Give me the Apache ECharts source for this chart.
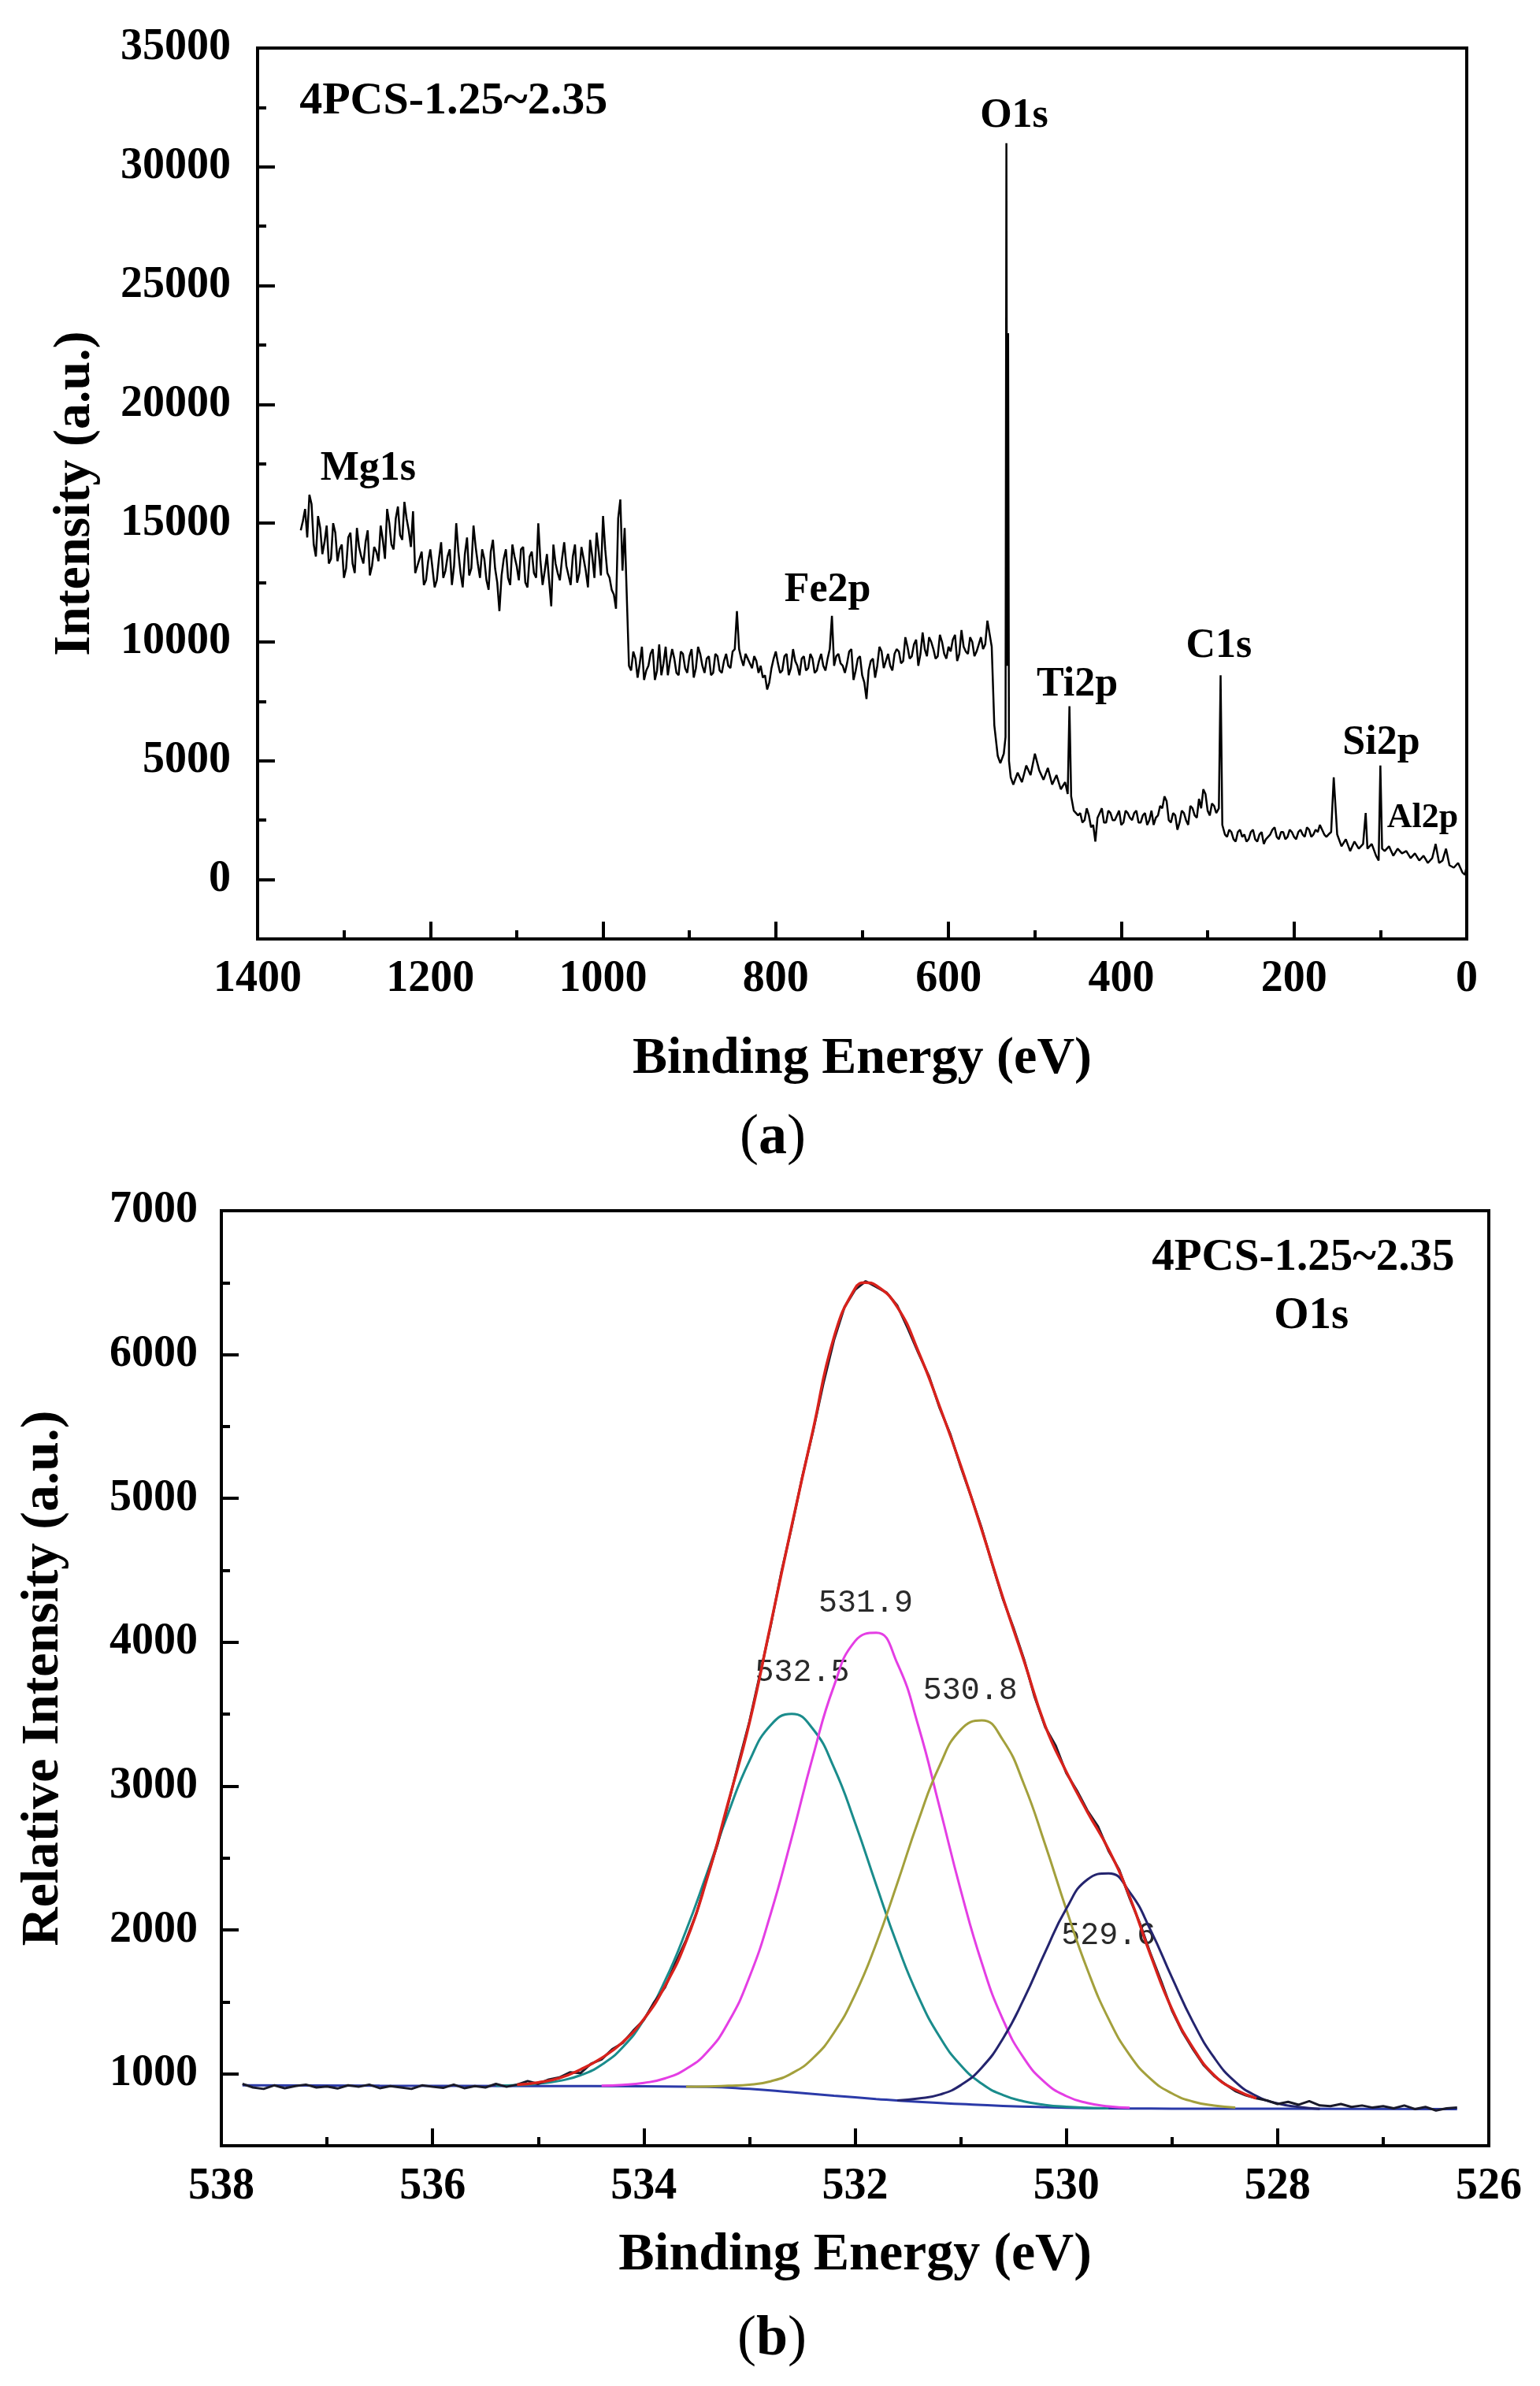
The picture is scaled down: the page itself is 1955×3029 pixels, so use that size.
<!DOCTYPE html>
<html>
<head>
<meta charset="utf-8">
<script src="https://cdn.jsdelivr.net/npm/echarts@6/dist/echarts.min.js"></script>
<style>
html, body { margin: 0; padding: 0; background: #fff; }
#xps { width: 1955px; height: 3029px; }
</style>
</head>
<body>
<div id="xps"></div>
<script>
// (a) survey spectrum
const surveyEnergy = [
  1350,1345,1340,1335,1330,1325,1320,1315,1310,1305,
  1300,1295,1290,1285,1280,1275,1270,1265,1260,1255,
  1250,1245,1240,1235,1230,1225,1220,1215,1210,1205,
  1200,1195,1190,1185,1180,1175,1170,1165,1160,1155,
  1150,1145,1140,1135,1130,1125,1120,1115,1110,1105,
  1100,1095,1090,1085,1080,1075,1070,1065,1060,1055,
  1050,1045,1040,1035,1030,1025,1020,1015,1010,1005,
  1000,995,990,985,980,975,970,965,960,955,
  950,945,940,935,930,925,920,915,910,905,
  900,895,890,885,880,875,870,865,860,855,
  850,845,840,835,830,825,820,815,810,805,
  800,795,790,785,780,775,770,765,760,755,
  750,745,740,735,730,725,720,715,710,705,
  700,695,690,685,680,675,670,665,660,655,
  650,645,640,635,630,625,620,615,610,605,
  600,595,590,585,580,575,570,565,560,555,
  550,547,543,540,536,534,533,532,531,530,
  528,525,520,515,510,505,500,495,490,485,
  480,475,470,465,462,460,458,455,450,445,
  440,435,430,425,420,415,410,405,400,395,
  390,385,380,375,370,365,360,355,350,345,
  340,335,330,325,320,315,310,305,300,295,
  290,287,285,283,280,275,270,265,260,255,
  250,245,240,235,230,225,220,215,210,205,
  200,195,190,185,180,175,170,165,160,157,
  154,150,145,140,135,130,125,120,117,115,
  110,105,102,100,98,95,90,85,80,75,
  70,65,60,55,50,45,40,36,32,28,
  24,20,15,10,5,2,0
];
const surveyCounts = [
  14700,15600,16200,14100,15300,13700,14900,13500,14600,13900,
  12700,14400,13300,14800,13600,14200,12800,14000,13400,14300,
  15600,14100,15200,14500,15900,14700,15500,13200,13800,12600,
  13900,12300,13500,12700,13600,12400,15000,12900,13700,12800,
  14900,13300,13900,12600,13800,13100,11300,13500,12700,14100,
  13200,13900,12500,13600,12900,15000,12400,13700,11500,13300,
  12600,14200,12800,13600,12500,14000,13000,14300,12700,13800,
  15300,12900,12200,11400,16000,14800,9000,9600,8500,9800,
  8800,9500,8400,9900,9100,8600,9700,8700,9600,8900,
  9400,8500,9800,9000,9300,8600,9500,8800,9200,9000,
  9600,11300,9300,9500,9100,9400,8700,8500,8000,8900,
  9600,8700,9400,8600,9700,9000,9300,8800,9500,8700,
  9200,9000,9300,11100,9400,9100,8700,9600,8400,9300,
  8600,7600,9200,8500,9800,8900,9500,8800,9700,9100,
  10200,9300,9900,9000,10400,9400,10000,9300,10300,9500,
  9800,10100,9200,10500,9600,10200,9400,9900,9700,10900,
  9800,6500,5200,4900,5300,6000,31000,9000,23000,5000,
  4300,4000,4500,4100,4800,4400,5300,4600,4200,4700,
  4000,4400,3800,4100,3600,7300,3500,2900,2700,2400,
  3000,2200,1600,2800,2400,2900,2500,2700,2300,2900,
  2600,2800,2400,2700,2300,2900,2600,3100,3500,2500,
  2800,2100,2900,2500,3100,2700,3400,3800,2900,3200,
  2800,3000,8600,2300,1900,2100,1700,2000,1800,1600,
  2000,1700,1900,1500,1800,2100,1800,2000,1700,2100,
  1800,2000,1900,2200,1800,2100,2300,1900,1900,2000,
  4300,1900,1400,1700,1200,1600,1300,1500,2800,1300,
  1500,1000,800,4800,1300,1200,1400,1000,1300,1100,
  1200,900,1100,800,1000,700,900,1500,700,800,
  1300,600,500,700,300,200,600
];
// in-between readings where the trace is densest
const surveyFineEnergy = [
  1347.5,1342.5,1337.5,1332.5,1327.5,1322.5,1317.5,1312.5,1307.5,1302.5,
  1297.5,1292.5,1287.5,1282.5,1277.5,1272.5,1267.5,1262.5,1257.5,1252.5,
  1247.5,1242.5,1237.5,1232.5,1227.5,1222.5,1217.5,1212.5,1207.5,1202.5,
  1197.5,1192.5,1187.5,1182.5,1177.5,1172.5,1167.5,1162.5,1157.5,1152.5,
  1147.5,1142.5,1137.5,1132.5,1127.5,1122.5,1117.5,1112.5,1107.5,1102.5,
  1097.5,1092.5,1087.5,1082.5,1077.5,1072.5,1067.5,1062.5,1057.5,1052.5,
  1047.5,1042.5,1037.5,1032.5,1027.5,1022.5,1017.5,1012.5,1007.5,1002.5,
  997.5,992.5,987.5,982.5,977.5,
  967.5,962.5,957.5,952.5,947.5,942.5,937.5,932.5,927.5,922.5,
  917.5,912.5,907.5,902.5,897.5,892.5,887.5,882.5,877.5,872.5,
  867.5,862.5,857.5,852.5,847.5,842.5,837.5,832.5,827.5,822.5,
  817.5,812.5,807.5,802.5,797.5,792.5,787.5,782.5,777.5,772.5,
  767.5,762.5,757.5,752.5,747.5,742.5,737.5,732.5,727.5,722.5,
  717.5,712.5,707.5,702.5,697.5,692.5,687.5,682.5,677.5,672.5,
  667.5,662.5,657.5,652.5,647.5,642.5,637.5,632.5,627.5,622.5,
  617.5,612.5,607.5,602.5,597.5,592.5,587.5,582.5,577.5,572.5,
  567.5,562.5,557.5,
  447.5,442.5,437.5,432.5,427.5,422.5,417.5,412.5,407.5,402.5,
  397.5,392.5,387.5,382.5,377.5,372.5,367.5,362.5,357.5,352.5,
  347.5,342.5,337.5,332.5,327.5,322.5,317.5,312.5,307.5,302.5,
  297.5,292.5,
  277.5,272.5,267.5,262.5,257.5,252.5,247.5,242.5,237.5,232.5,
  227.5,222.5,217.5,212.5,207.5,202.5,197.5,192.5,187.5,182.5,
  177.5,172.5,167.5,162.5
];
const surveyFineCounts = [
  15100,14400,15800,13600,14800,14200,13300,15000,13400,14100,
  13100,14600,12900,14000,13300,14700,13200,13800,14900,13500,
  15000,13900,15700,14300,15200,14000,12900,13500,12400,13400,
  13100,12600,14200,13000,13900,13200,13800,12300,14400,13100,
  14000,12700,13500,12200,14300,12500,12800,13900,12400,13600,
  12600,14000,12300,13800,12700,13400,13000,12600,14100,12900,
  13500,13200,12400,14100,12900,13500,12300,13600,14600,12800,
  13900,12700,12000,15200,13000,
  8800,9300,9100,8400,9000,9700,8800,8600,9800,9200,
  9300,8600,9500,8700,9700,8900,9500,8700,9400,8700,
  9400,8700,9500,8900,9700,9700,9000,9300,8900,9200,
  9000,8600,8300,9300,9100,8800,9500,8900,9200,8600,
  9400,8900,9300,8800,9500,8800,9700,9000,9500,9000,
  9100,9700,8800,9400,8300,8800,9300,9000,9600,9200,
  9000,9500,9600,9200,9800,9400,10100,9500,9700,10200,
  9700,9400,10000,9300,9600,10300,9500,9800,9500,10000,
  9600,10200,9900,
  2800,2500,2700,2300,2600,3000,2400,2800,2500,2900,
  2400,2800,2500,2900,2400,2800,2500,2300,2700,3000,
  3300,2400,2700,2400,2800,2300,3000,2600,3000,3600,
  2700,3100,
  1800,2000,1600,2100,1900,1700,2100,1600,2000,1700,
  1900,2200,1700,2000,1800,2000,1700,2100,1800,2100,
  1900,2000,2100,1800
];
const surveyTags = ['4PCS-1.25~2.35', 'O1s', 'Mg1s', 'Fe2p', 'Ti2p', 'C1s', 'Si2p', 'Al2p'];
const surveyTagEnergy = [1352, 524, 1272, 740, 451, 287, 99, 51];
const surveyTagCounts = [32750, 32140, 17270, 12180, 8190, 9820, 5740, 2600];
const surveyMajorX = [0, 200, 400, 600, 800, 1000, 1200, 1400];
const surveyMajorY = [0, 5000, 10000, 15000, 20000, 25000, 30000, 35000];

// (b) O1s high resolution spectrum
const rawEnergy = [
  537.8,537.7,537.6,537.5,537.4,537.3,537.2,537.1,537.0,536.9,
  536.8,536.7,536.6,536.5,536.4,536.3,536.2,536.1,536.0,535.9,
  535.8,535.7,535.6,535.5,535.4,535.3,535.2,535.1,535.0,534.9,
  534.8,534.7,534.6,534.5,534.4,534.3,534.2,534.1,534.0,533.9,
  533.8,533.7,533.6,533.5,533.4,533.3,533.2,533.1,533.0,532.9,
  532.8,532.7,532.6,532.5,532.4,532.3,532.2,532.1,532.0,531.9,
  531.8,531.7,531.6,531.5,531.4,531.3,531.2,531.1,531.0,530.9,
  530.8,530.7,530.6,530.5,530.4,530.3,530.2,530.1,530.0,529.9,
  529.8,529.7,529.6,529.5,529.4,529.3,529.2,529.1,529.0,528.9,
  528.8,528.7,528.6,528.5,528.4,528.3,528.2,528.1,528.0,527.9,
  527.8,527.7,527.6,527.5,527.4,527.3,527.2,527.1,527.0,526.9,
  526.8,526.7,526.6,526.5,526.4,526.3
];
const rawCounts = [
  930,905,895,920,900,915,925,905,912,898,
  920,910,925,900,915,905,895,920,910,902,
  925,900,915,905,930,910,925,950,930,960,
  975,1010,1005,1070,1100,1170,1215,1300,1375,1500,
  1600,1770,1930,2120,2370,2600,2880,3170,3450,3780,
  4110,4480,4800,5150,5460,5800,6100,6330,6450,6510,
  6470,6430,6340,6180,6010,5850,5630,5450,5220,5010,
  4790,4540,4300,4100,3880,3620,3410,3280,3090,2970,
  2830,2720,2550,2420,2220,2040,1830,1640,1440,1290,
  1170,1060,985,930,880,850,830,815,790,805,
  785,810,780,775,790,770,780,765,775,760,
  780,755,770,745,760,765
];
const envEnergy = [
  535.2,535.0,534.8,534.6,534.4,534.2,534.0,533.8,533.6,533.4,
  533.2,533.0,532.8,532.6,532.4,532.2,532.0,531.9,531.8,531.6,
  531.4,531.2,531.0,530.8,530.6,530.4,530.2,530.0,529.8,529.6,
  529.4,529.2,529.0,528.8,528.6,528.4,528.2
];
const envCounts = [
  925,940,970,1030,1110,1220,1380,1610,1920,2360,
  2890,3440,4120,4810,5470,6120,6460,6500,6480,6330,
  6020,5640,5230,4780,4310,3870,3420,3100,2820,2560,
  2230,1820,1450,1180,990,890,830
];
const bgEnergy = [537.8,536.5,535.0,534.0,533.4,533.0,532.6,532.2,531.8,531.4,531.0,530.6,530.2,529.8,529.4,529.0,528.0,526.3];
const bgCounts = [920,917,915,913,910,895,872,848,825,805,790,777,768,762,759,758,757,754];

const fitEnergy = [
  535.6,535.4,535.2,535.0,534.8,534.6,534.4,534.2,534.0,533.8,
  533.6,533.4,533.2,533.0,532.8,532.6,532.4,532.2,532.0,531.8,
  531.6,531.4,531.2,531.0,530.8,530.6,530.4,530.2,530.0,529.8,
  529.6,529.4,529.2,529.0,528.8,528.6,528.4,528.2,528.0,527.8,
  527.6
];
const peak5325 = [
  null,917,921,931,951,990,1063,1185,1376,1646,
  1996,2399,2814,3176,3423,3502,3398,3129,2745,2314,
  1896,1536,1258,1060,931,852,808,784,771,764,
  760,null,null,null,null,null,null,null,null,null,
  null
];
const peak5319 = [
  null,null,null,null,null,null,918,923,937,968,
  1034,1152,1358,1673,2110,2641,3204,3696,4008,4066,
  3853,3416,2854,2278,1770,1377,1107,939,845,797,
  774,764,null,null,null,null,null,null,null,null,
  null
];
const peak5308 = [
  null,null,null,null,null,null,null,null,null,null,
  911,912,917,924,948,1003,1108,1286,1551,1905,
  2325,2762,3142,3392,3457,3320,3011,2593,2143,1724,
  1382,1131,964,864,807,779,766,null,null,null,
  null
];
const peak5296 = [
  null,null,null,null,null,null,null,null,null,null,
  null,null,null,null,null,null,null,null,null,null,
  815,828,855,921,1044,1245,1523,1846,2148,2351,
  2394,2263,1996,1670,1359,1112,944,846,794,770,
  756
];
const peakNames = ['532.5', '531.9', '530.8', '529.6'];
const peakTagEnergy = [532.5, 531.9, 530.91, 529.6];
const peakTagCounts = [3791, 4269, 3665, 1962];
const peakColors = ['#1a8c8c', '#e43ee4', '#a3a03c', '#24246e'];
const o1sMajorX = [526, 528, 530, 532, 534, 536, 538];
const o1sMajorY = [1000, 2000, 3000, 4000, 5000, 6000, 7000];

const zip = (xs, ys) => xs.map((x, i) => [x, ys[i]]);
const serif = 'Liberation Serif';

// coarse + fine survey readings, walked from high to low binding energy
const surveyPoints = zip(surveyEnergy, surveyCounts)
  .concat(zip(surveyFineEnergy, surveyFineCounts))
  .sort((a, b) => b[0] - a[0]);

const axisLine = { onZero: false, lineStyle: { color: '#000', width: 4 } };
const nameStyle = size => ({ fontFamily: serif, fontWeight: 'bold', fontSize: size, color: '#000' });

// labelled axis: long ticks + labels only on the major values
function majorAxis(base, values, margin) {
  return Object.assign({
    type: 'value', nameLocation: 'middle',
    axisLine: axisLine,
    axisTick: { inside: true, length: 22, customValues: values, lineStyle: { color: '#000', width: 4 } },
    axisLabel: {
      customValues: values, margin: margin,
      fontFamily: serif, fontWeight: 'bold', fontSize: 56, color: '#000',
      formatter: v => values.indexOf(Math.round(v * 10) / 10) >= 0 ? String(v) : ''
    },
    splitLine: { show: false }
  }, base);
}
// twin axis that only carries the short in-between ticks
function minorAxis(base) {
  return Object.assign({
    type: 'value',
    axisLine: { show: false, onZero: false },
    axisTick: { inside: true, length: 11, lineStyle: { color: '#000', width: 4 } },
    axisLabel: { show: false },
    splitLine: { show: false }
  }, base);
}

const myChart = echarts.init(document.getElementById('xps'));
myChart.setOption({
  animation: false,
  backgroundColor: '#fff',
  grid: [
    { left: 327, right: 93, top: 61, height: 1131, show: true, borderColor: '#000', borderWidth: 4 },
    { left: 281, right: 65, top: 1537, height: 1187, show: true, borderColor: '#000', borderWidth: 4 }
  ],
  xAxis: [
    majorAxis({ gridIndex: 0, min: 0, max: 1400, interval: 200, inverse: true,
      name: 'Binding Energy (eV)', nameGap: 120, nameTextStyle: nameStyle(66) }, surveyMajorX, 24),
    majorAxis({ gridIndex: 1, min: 526, max: 538, interval: 2, inverse: true,
      name: 'Binding Energy (eV)', nameGap: 105, nameTextStyle: nameStyle(68) }, o1sMajorX, 25),
    minorAxis({ gridIndex: 0, min: 0, max: 1400, interval: 100, inverse: true, position: 'bottom' }),
    minorAxis({ gridIndex: 1, min: 526, max: 538, interval: 1, inverse: true, position: 'bottom' })
  ],
  yAxis: [
    majorAxis({ gridIndex: 0, min: -2500, max: 35000, interval: 2500,
      name: 'Intensity (a.u.)', nameGap: 198, nameRotate: 90, nameTextStyle: nameStyle(66) }, surveyMajorY, 34),
    majorAxis({ gridIndex: 1, min: 500, max: 7000, interval: 500,
      name: 'Relative Intensity (a.u.)', nameGap: 192, nameRotate: 90, nameTextStyle: nameStyle(68) }, o1sMajorY, 30),
    minorAxis({ gridIndex: 0, min: -2500, max: 35000, interval: 2500, position: 'left' }),
    minorAxis({ gridIndex: 1, min: 500, max: 7000, interval: 500, position: 'left' })
  ],
  series: [
    {
      type: 'line', xAxisIndex: 0, yAxisIndex: 0, data: surveyPoints,
      symbol: 'none', lineStyle: { color: '#000', width: 2.5 }
    },
    {
      type: 'scatter', xAxisIndex: 0, yAxisIndex: 0, symbolSize: 1,
      itemStyle: { color: 'transparent', opacity: 1 },
      data: surveyTags.map((t, i) => ({
        name: t, value: [surveyTagEnergy[i], surveyTagCounts[i]],
        label: i === 0 ? { position: 'right', distance: 0, fontSize: 58 } : (t === 'Al2p' ? { fontSize: 44 } : {})
      })),
      label: { show: true, opacity: 1, position: 'inside', formatter: '{b}', fontFamily: serif, fontWeight: 'bold', fontSize: 52, color: '#000' }
    },
    {
      type: 'line', xAxisIndex: 1, yAxisIndex: 1, data: zip(bgEnergy, bgCounts),
      symbol: 'none', smooth: true, lineStyle: { color: '#2b3aa8', width: 3 }
    },
    ...[peak5325, peak5319, peak5308, peak5296].map((vals, k) => ({
      type: 'line', xAxisIndex: 1, yAxisIndex: 1, data: zip(fitEnergy, vals),
      symbol: 'none', smooth: true, connectNulls: false, lineStyle: { color: peakColors[k], width: 3 }
    })),
    {
      type: 'line', xAxisIndex: 1, yAxisIndex: 1, data: zip(rawEnergy, rawCounts),
      symbol: 'none', lineStyle: { color: '#1a1a2a', width: 3 }
    },
    {
      type: 'line', xAxisIndex: 1, yAxisIndex: 1, data: zip(envEnergy, envCounts),
      symbol: 'none', smooth: true, lineStyle: { color: '#d8221c', width: 3.5 }
    },
    {
      type: 'scatter', xAxisIndex: 1, yAxisIndex: 1, symbolSize: 1,
      itemStyle: { color: 'transparent', opacity: 1 },
      data: peakNames.map((t, i) => ({ name: t, value: [peakTagEnergy[i], peakTagCounts[i]] })),
      label: { show: true, opacity: 1, position: 'inside', formatter: '{b}', fontFamily: 'Liberation Mono', fontSize: 40, color: '#2a2a2a' }
    },
    {
      type: 'scatter', xAxisIndex: 1, yAxisIndex: 1, symbolSize: 1,
      itemStyle: { color: 'transparent', opacity: 1 },
      data: [
        { name: '4PCS-1.25~2.35', value: [526.32, 6669], label: { position: 'left', distance: 0 } },
        { name: 'O1s', value: [527.68, 6267] }
      ],
      label: { show: true, opacity: 1, position: 'inside', formatter: '{b}', fontFamily: serif, fontWeight: 'bold', fontSize: 57, color: '#000' }
    }
  ],
  graphic: [
    {
      type: 'text', x: 981, y: 1445,
      style: {
        text: '{p|(}{b|a}{p|)}', align: 'center', verticalAlign: 'middle',
        rich: { p: { fontFamily: serif, fontSize: 72, fill: '#000' }, b: { fontFamily: serif, fontSize: 72, fontWeight: 'bold', fill: '#000' } }
      }
    },
    {
      type: 'text', x: 980, y: 2970,
      style: {
        text: '{p|(}{b|b}{p|)}', align: 'center', verticalAlign: 'middle',
        rich: { p: { fontFamily: serif, fontSize: 72, fill: '#000' }, b: { fontFamily: serif, fontSize: 72, fontWeight: 'bold', fill: '#000' } }
      }
    }
  ]
});
</script>
</body>
</html>
